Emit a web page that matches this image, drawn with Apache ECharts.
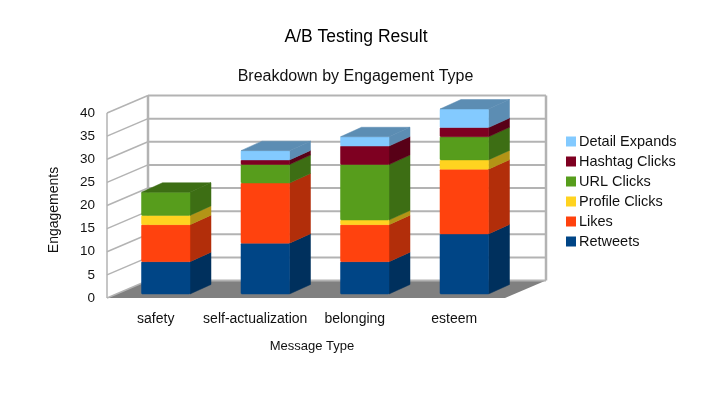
<!DOCTYPE html>
<html>
<head>
<meta charset="utf-8">
<style>html,body{margin:0;padding:0;background:#fff}#c{width:704px;height:396px}</style>
<script src="https://cdn.jsdelivr.net/npm/echarts@6/dist/echarts.min.js"></script>
</head>
<body>
<div id="c"></div>
<script>
const categories = ['safety', 'self-actualization', 'belonging', 'esteem'];
const retweets = [7, 11, 7, 13];
const likes = [8, 13, 8, 14];
const profileClicks = [2, 0, 1, 2];
const urlClicks = [5, 4, 12, 5];
const hashtagClicks = [0, 1, 4, 2];
const detailExpands = [0, 2, 2, 4];
const yTicks = [0, 5, 10, 15, 20, 25, 30, 35, 40];
const seriesNames = ['Retweets', 'Likes', 'Profile Clicks', 'URL Clicks', 'Hashtag Clicks', 'Detail Expands'];
const seriesValues = [retweets, likes, profileClicks, urlClicks, hashtagClicks, detailExpands];
const colors = ['#004586', '#ff420e', '#ffd320', '#579d1c', '#7e0021', '#83caff'];
const sideColors = ['#00305d', '#b22e0a', '#b39416', '#3d6e14', '#580017', '#5c8db3'];

const FONT = '"Liberation Sans", Arial, sans-serif';
const TEXT = '#111';
const WALL_DX = 41, WALL_DY = -17.5;
const BAR_SHIFT_X = 9, BAR_SHIFT_Y = -4;
const BAR_DX = 21, BAR_DY = -9.5;
const BAR_RATIO = 0.4875;
const LINE = '#b3b3b3';

function wallItem(params, api) {
  const cs = params.coordSys;
  const y0 = api.coord([0, 0])[1], y1 = api.coord([0, 40])[1];
  const xl = cs.x, xr = cs.x + cs.width;
  const L = (a, b, c, d, w) => ({type: 'line', shape: {x1: a, y1: b, x2: c, y2: d},
    style: {stroke: LINE, lineWidth: w}});
  return {type: 'group', children: [
    {type: 'polygon', shape: {points: [[xl, y0], [xl + WALL_DX, y0 + WALL_DY],
      [xr + WALL_DX, y0 + WALL_DY], [xr, y0]]}, style: {fill: '#808080'}},
    L(xl, y0, xl, y1, 1.5),
    L(xl + WALL_DX, y0 + WALL_DY, xl + WALL_DX, y1 + WALL_DY, 2.5),
    L(xr + WALL_DX, y0 + WALL_DY, xr + WALL_DX, y1 + WALL_DY, 2.5)
  ]};
}

function gridItem(params, api) {
  const cs = params.coordSys;
  const y = api.coord([0, api.value(0)])[1];
  const xl = cs.x, xr = cs.x + cs.width;
  return {type: 'group', children: [
    {type: 'line', shape: {x1: xl, y1: y, x2: xl + WALL_DX, y2: y + WALL_DY},
      style: {stroke: LINE, lineWidth: 1.5}},
    {type: 'line', shape: {x1: xl + WALL_DX, y1: y + WALL_DY, x2: xr + WALL_DX, y2: y + WALL_DY},
      style: {stroke: LINE, lineWidth: 2}}
  ]};
}

function barItem(sIdx) {
  return function (params, api) {
    const cat = api.value(0), lo = api.value(1), hi = api.value(2), total = api.value(3);
    if (hi <= lo) return null;
    const pLo = api.coord([cat, lo]), pHi = api.coord([cat, hi]);
    const w = api.size([1, 0])[0] * BAR_RATIO;
    const x0 = pLo[0] + BAR_SHIFT_X - w / 2, x1 = x0 + w;
    const yb = pLo[1] + BAR_SHIFT_Y, yt = pHi[1] + BAR_SHIFT_Y;
    const kids = [
      {type: 'polygon', shape: {points: [[x1, yb], [x1 + BAR_DX, yb + BAR_DY], [x1 + BAR_DX, yt + BAR_DY], [x1, yt]]},
        style: {fill: sideColors[sIdx], stroke: sideColors[sIdx], lineWidth: 0.5}},
      {type: 'rect', shape: {x: x0, y: yt, width: w, height: yb - yt, r: 1},
        style: {fill: colors[sIdx], stroke: colors[sIdx], lineWidth: 0.5}}
    ];
    if (hi === total) {
      kids.push({type: 'polygon', shape: {points: [[x0, yt], [x0 + BAR_DX, yt + BAR_DY], [x1 + BAR_DX, yt + BAR_DY], [x1, yt]]},
        style: {fill: sideColors[sIdx], stroke: sideColors[sIdx], lineWidth: 0.5}});
    }
    return {type: 'group', children: kids};
  };
}

const totals = categories.map((_, i) => seriesValues.reduce((s, v) => s + v[i], 0));
const running = categories.map(() => 0);
const barSeries = seriesNames.map((name, s) => {
  const data = categories.map((_, i) => {
    const lo = running[i];
    running[i] += seriesValues[s][i];
    return [i, lo, running[i], totals[i]];
  });
  return {
    type: 'custom', name, data, renderItem: barItem(s), clip: false, z: 5 + s,
    itemStyle: {color: colors[s]}, encode: {x: 0, y: [1, 2]}, silent: true
  };
});

const chart = echarts.init(document.getElementById('c'), null, {renderer: 'canvas'});
chart.setOption({
  animation: false,
  backgroundColor: '#ffffff',
  title: [
    {text: 'A/B Testing Result', left: 351, top: 23.5, textAlign: 'center',
      textStyle: {fontFamily: FONT, fontSize: 17.5, fontWeight: 'normal', color: '#000'}},
    {text: 'Breakdown by Engagement Type', left: 350.5, top: 63.5, textAlign: 'center',
      textStyle: {fontFamily: FONT, fontSize: 16, fontWeight: 'normal', color: TEXT}}
  ],
  legend: {
    orient: 'vertical', left: 561, top: 129, itemWidth: 10, itemHeight: 10, itemGap: 5,
    icon: 'rect', selectedMode: false, align: 'left',
    data: seriesNames.slice().reverse(),
    textStyle: {fontFamily: FONT, fontSize: 14.5, color: TEXT, padding: [0, 0, 0, -2]}
  },
  grid: {left: 107, right: 199, top: 113, bottom: 98, containLabel: false},
  xAxis: {
    type: 'category', data: categories,
    axisLine: {show: false}, axisTick: {show: false},
    axisLabel: {fontFamily: FONT, fontSize: 14, color: TEXT, margin: 14, interval: 0, padding: [0, 2, 0, 0]},
    name: 'Message Type', nameLocation: 'middle', nameGap: 42,
    nameTextStyle: {fontFamily: FONT, fontSize: 13, color: TEXT, padding: [0, 0, 0, 12]}
  },
  yAxis: {
    type: 'value', min: 0, max: 40, interval: 5,
    axisLine: {show: false}, axisTick: {show: false}, splitLine: {show: false},
    axisLabel: {fontFamily: FONT, fontSize: 13.5, color: TEXT, margin: 12, padding: [2, 0, 0, 0]},
    name: 'Engagements', nameLocation: 'middle', nameGap: 46,
    nameTextStyle: {fontFamily: FONT, fontSize: 14, color: TEXT, padding: [0, 9, 0, 0]}
  },
  series: [
    {type: 'custom', name: 'walls', data: [[0]], renderItem: wallItem, clip: false, z: 1, silent: true, encode: {y: 0}},
    {type: 'custom', name: 'gridlines', data: yTicks.map(v => [v]), renderItem: gridItem, clip: false, z: 2, silent: true, encode: {y: 0}}
  ].concat(barSeries)
});
</script>
</body>
</html>
